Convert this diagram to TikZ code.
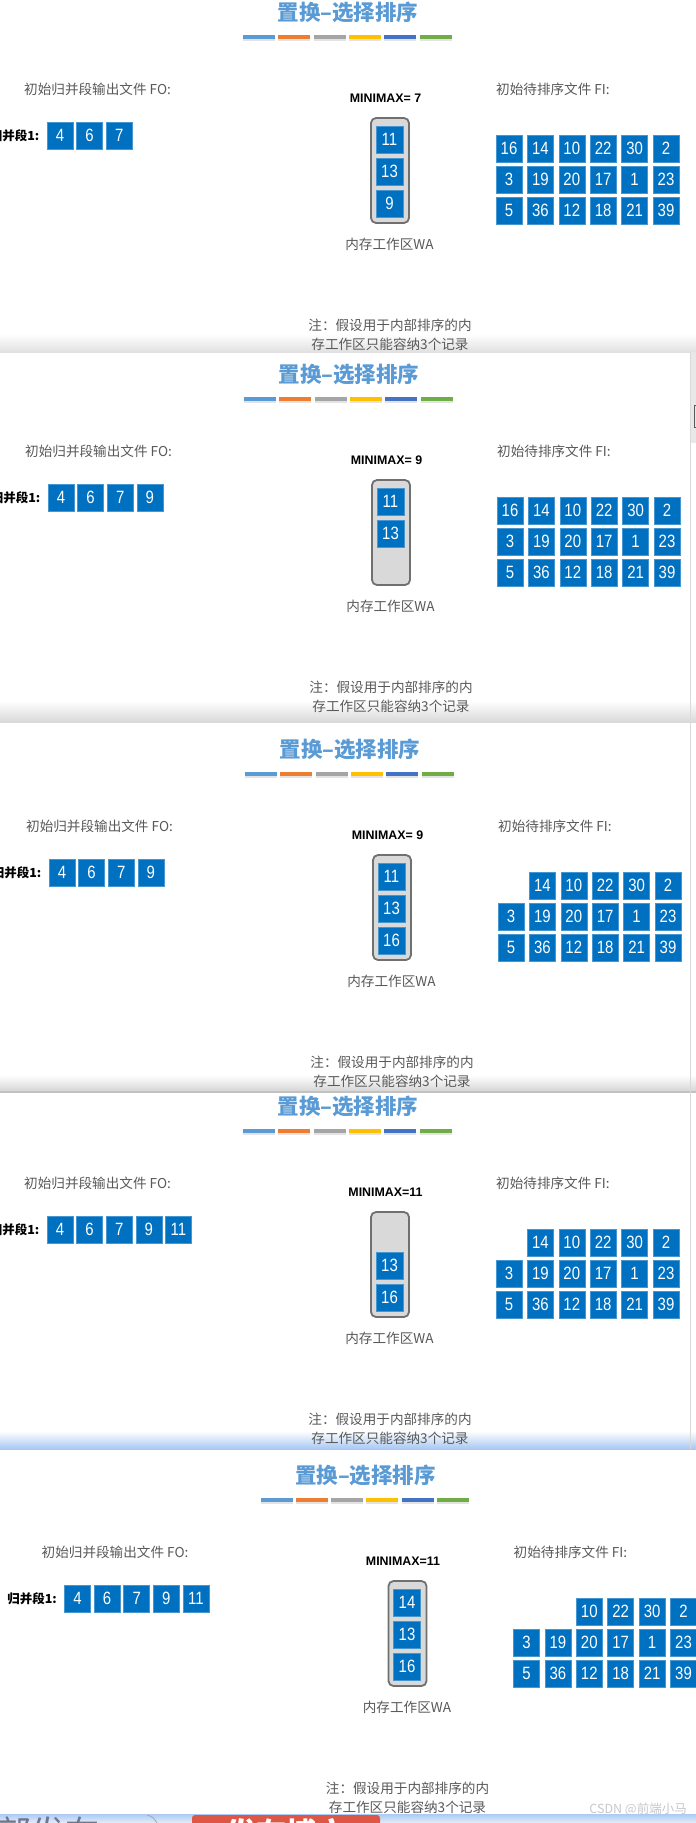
\documentclass[tikz,border=0pt]{standalone}
\usepackage{fontspec}
\setmainfont{Liberation Sans}
\newfontfamily\cjk{Noto Sans CJK SC}
\newfontfamily\numfont[FakeStretch=0.84]{Liberation Sans}
\definecolor{titleblue}{RGB}{91,155,213}
\definecolor{barA}{RGB}{91,155,213}
\definecolor{barB}{RGB}{237,125,49}
\definecolor{barC}{RGB}{165,165,165}
\definecolor{barD}{RGB}{255,192,0}
\definecolor{barE}{RGB}{68,114,196}
\definecolor{barF}{RGB}{112,173,71}
\definecolor{boxblue}{RGB}{0,112,192}
\definecolor{boxedge}{RGB}{70,150,210}
\definecolor{wagray}{RGB}{217,217,217}
\definecolor{wadark}{RGB}{112,112,112}
\definecolor{txtgray}{RGB}{89,89,89}
\definecolor{shadeblue}{RGB}{168,200,242}
\definecolor{bandtop}{RGB}{172,202,244}
\definecolor{bandbot}{RGB}{228,237,251}
\definecolor{bottext}{RGB}{110,120,140}
\definecolor{tabred}{RGB}{222,86,70}
\definecolor{wmgray}{RGB}{200,200,200}
\tikzset{
  numbox/.style={fill=boxblue, draw=boxedge, line width=0.6pt, text=white,
    minimum width=26pt, minimum height=27pt, inner sep=0pt,
    font=\numfont\fontsize{17.8}{19}\selectfont},
  ttl/.style={text=titleblue, inner sep=0pt, font=\cjk\bfseries\fontsize{21.5}{24}\selectfont},
  lbl/.style={text=txtgray, inner sep=0pt, font=\cjk\fontsize{13.6}{16}\selectfont},
  mmx/.style={inner sep=0pt, font=\bfseries\fontsize{12.4}{14}\selectfont},
  seglbl/.style={inner sep=0pt, font=\cjk\bfseries\fontsize{12.5}{14}\selectfont},
  wabox/.style={fill=wagray, draw=wadark, line width=1.8pt, rounded corners=5pt,
    minimum width=38pt, minimum height=105pt, inner sep=0pt},
}
% #1 id, #2 dx, #3 dy, #4 minimax, #5 outputs, #6 WA slots, #7 first column of row 1
\newcommand\drawpanel[7]{%
\begin{scope}[shift={(#2,#3)}]
  \node[ttl] (#1title) at (348,12.5) {置换–选择排序};
  \foreach \col [count=\k from 0] in {barA,barB,barC,barD,barE,barF}{
    \fill[gray!22] ({243+\k*35.3},39) rectangle ({275+\k*35.3},40.6);
    \fill[\col] ({243+\k*35.3},35) rectangle ({275+\k*35.3},39);
  }
  \node[lbl,anchor=west] (#1fo) at (24,89) {初始归并段输出文件 FO:};
  \node[mmx] (#1mm) at (385.5,98) {#4};
  \node[lbl,anchor=west] (#1fi) at (496,89) {初始待排序文件 FI:};
  \node[seglbl,anchor=east] (#1seg) at (39.5,136) {归并段1:};
  \foreach \v [count=\k from 0] in {#5}
    \node[numbox] (#1o\k) at ({60+\k*29.6},135.5) {\v};
  \node[wabox] (#1wa) at (390,170.5) {};
  \foreach \s/\v in {#6}
    \node[numbox,minimum width=27pt] (#1w\s) at (389.5,{139.5+(\s-1)*32}) {\v};
  \node[lbl] (#1wal) at (389.5,244.5) {内存工作区WA};
  \foreach \v [count=\k from 1] in {16,14,10,22,30,2}{
    \ifnum\k<#7\relax\else
      \node[numbox] (#1a\k) at ({509+(\k-1)*31.4},148.5) {\v};
    \fi}
  \foreach \v [count=\k from 1] in {3,19,20,17,1,23}
    \node[numbox] (#1b\k) at ({509+(\k-1)*31.4},179.5) {\v};
  \foreach \v [count=\k from 1] in {5,36,12,18,21,39}
    \node[numbox] (#1c\k) at ({509+(\k-1)*31.4},210.5) {\v};
  \node[lbl] (#1n1) at (390,325.5) {注：假设用于内部排序的内};
  \node[lbl] (#1n2) at (390,344.5) {存工作区只能容纳3个记录};
\end{scope}}
\begin{document}
\begin{tikzpicture}[x=1pt,y=-1pt]
  \useasboundingbox (0,0) rectangle (696,1823);
  \fill[white] (0,0) rectangle (696,1823);
  % shadows between the stacked screenshots
  \shade[top color=white, bottom color=gray!24] (0,334) rectangle (696,352);
  \shade[top color=white, bottom color=gray!30] (0,701) rectangle (696,722);
  \shade[top color=white, bottom color=gray!34] (0,1075) rectangle (696,1092);
  \fill[gray!48] (0,1091) rectangle (696,1093);
  \shade[top color=white, bottom color=shadeblue] (0,1431) rectangle (696,1449);
  % right edges of the middle screenshots
  \fill[gray!18] (691,352) rectangle (696,443);
  \draw[gray!70!black, line width=0.8pt] (696,405) -- (694,405) -- (694,427) -- (696,427);
  \draw[gray!30, line width=1pt] (690.5,352) -- (690.5,1449);
  % panels
  \begin{scope}\clip (0,0) rectangle (696,352);
    \drawpanel{p1}{0}{0}{MINIMAX= 7}{4,6,7}{1/11,2/13,3/9}{1}
  \end{scope}
  \begin{scope}\clip (0,352) rectangle (690,722);
    \drawpanel{p2}{1}{362}{MINIMAX= 9}{4,6,7,9}{1/11,2/13}{1}
  \end{scope}
  \begin{scope}\clip (0,722) rectangle (690,1091);
    \drawpanel{p3}{2}{737}{MINIMAX= 9}{4,6,7,9}{1/11,2/13,3/16}{2}
  \end{scope}
  \begin{scope}\clip (0,1093) rectangle (690,1449);
    \drawpanel{p4}{0}{1094}{MINIMAX=11}{4,6,7,9,11}{2/13,3/16}{2}
  \end{scope}
  \begin{scope}\clip (0,1449) rectangle (696,1814);
    \drawpanel{p5}{17.5}{1463}{MINIMAX=11}{4,6,7,9,11}{1/14,2/13,3/16}{3}
    \node[anchor=east, text=wmgray, inner sep=0pt, font=\cjk\fontsize{12.5}{14}\selectfont] (wm) at (687,1809) {CSDN @前端小马};
  \end{scope}
  % bottom strip of the page below
  \shade[top color=bandtop, bottom color=bandbot] (0,1814) rectangle (696,1823);
  \begin{scope}\clip (0,1814) rectangle (696,1823);
    \node[anchor=north west, inner sep=0pt, text=bottext, font=\cjk\fontsize{34}{36}\selectfont] (bt) at (-3,1816.5) {部发布};
    \draw[gray!70, line width=0.8pt] (147,1815) .. controls (153,1817) .. (157,1823);
    \fill[tabred, rounded corners=3pt] (192,1815) rectangle (380,1835);
    \node[anchor=north, inner sep=0pt, text=white, font=\cjk\bfseries\fontsize{30}{32}\selectfont] (tb) at (286,1818.5) {发布博文};
  \end{scope}
\end{tikzpicture}
\end{document}
